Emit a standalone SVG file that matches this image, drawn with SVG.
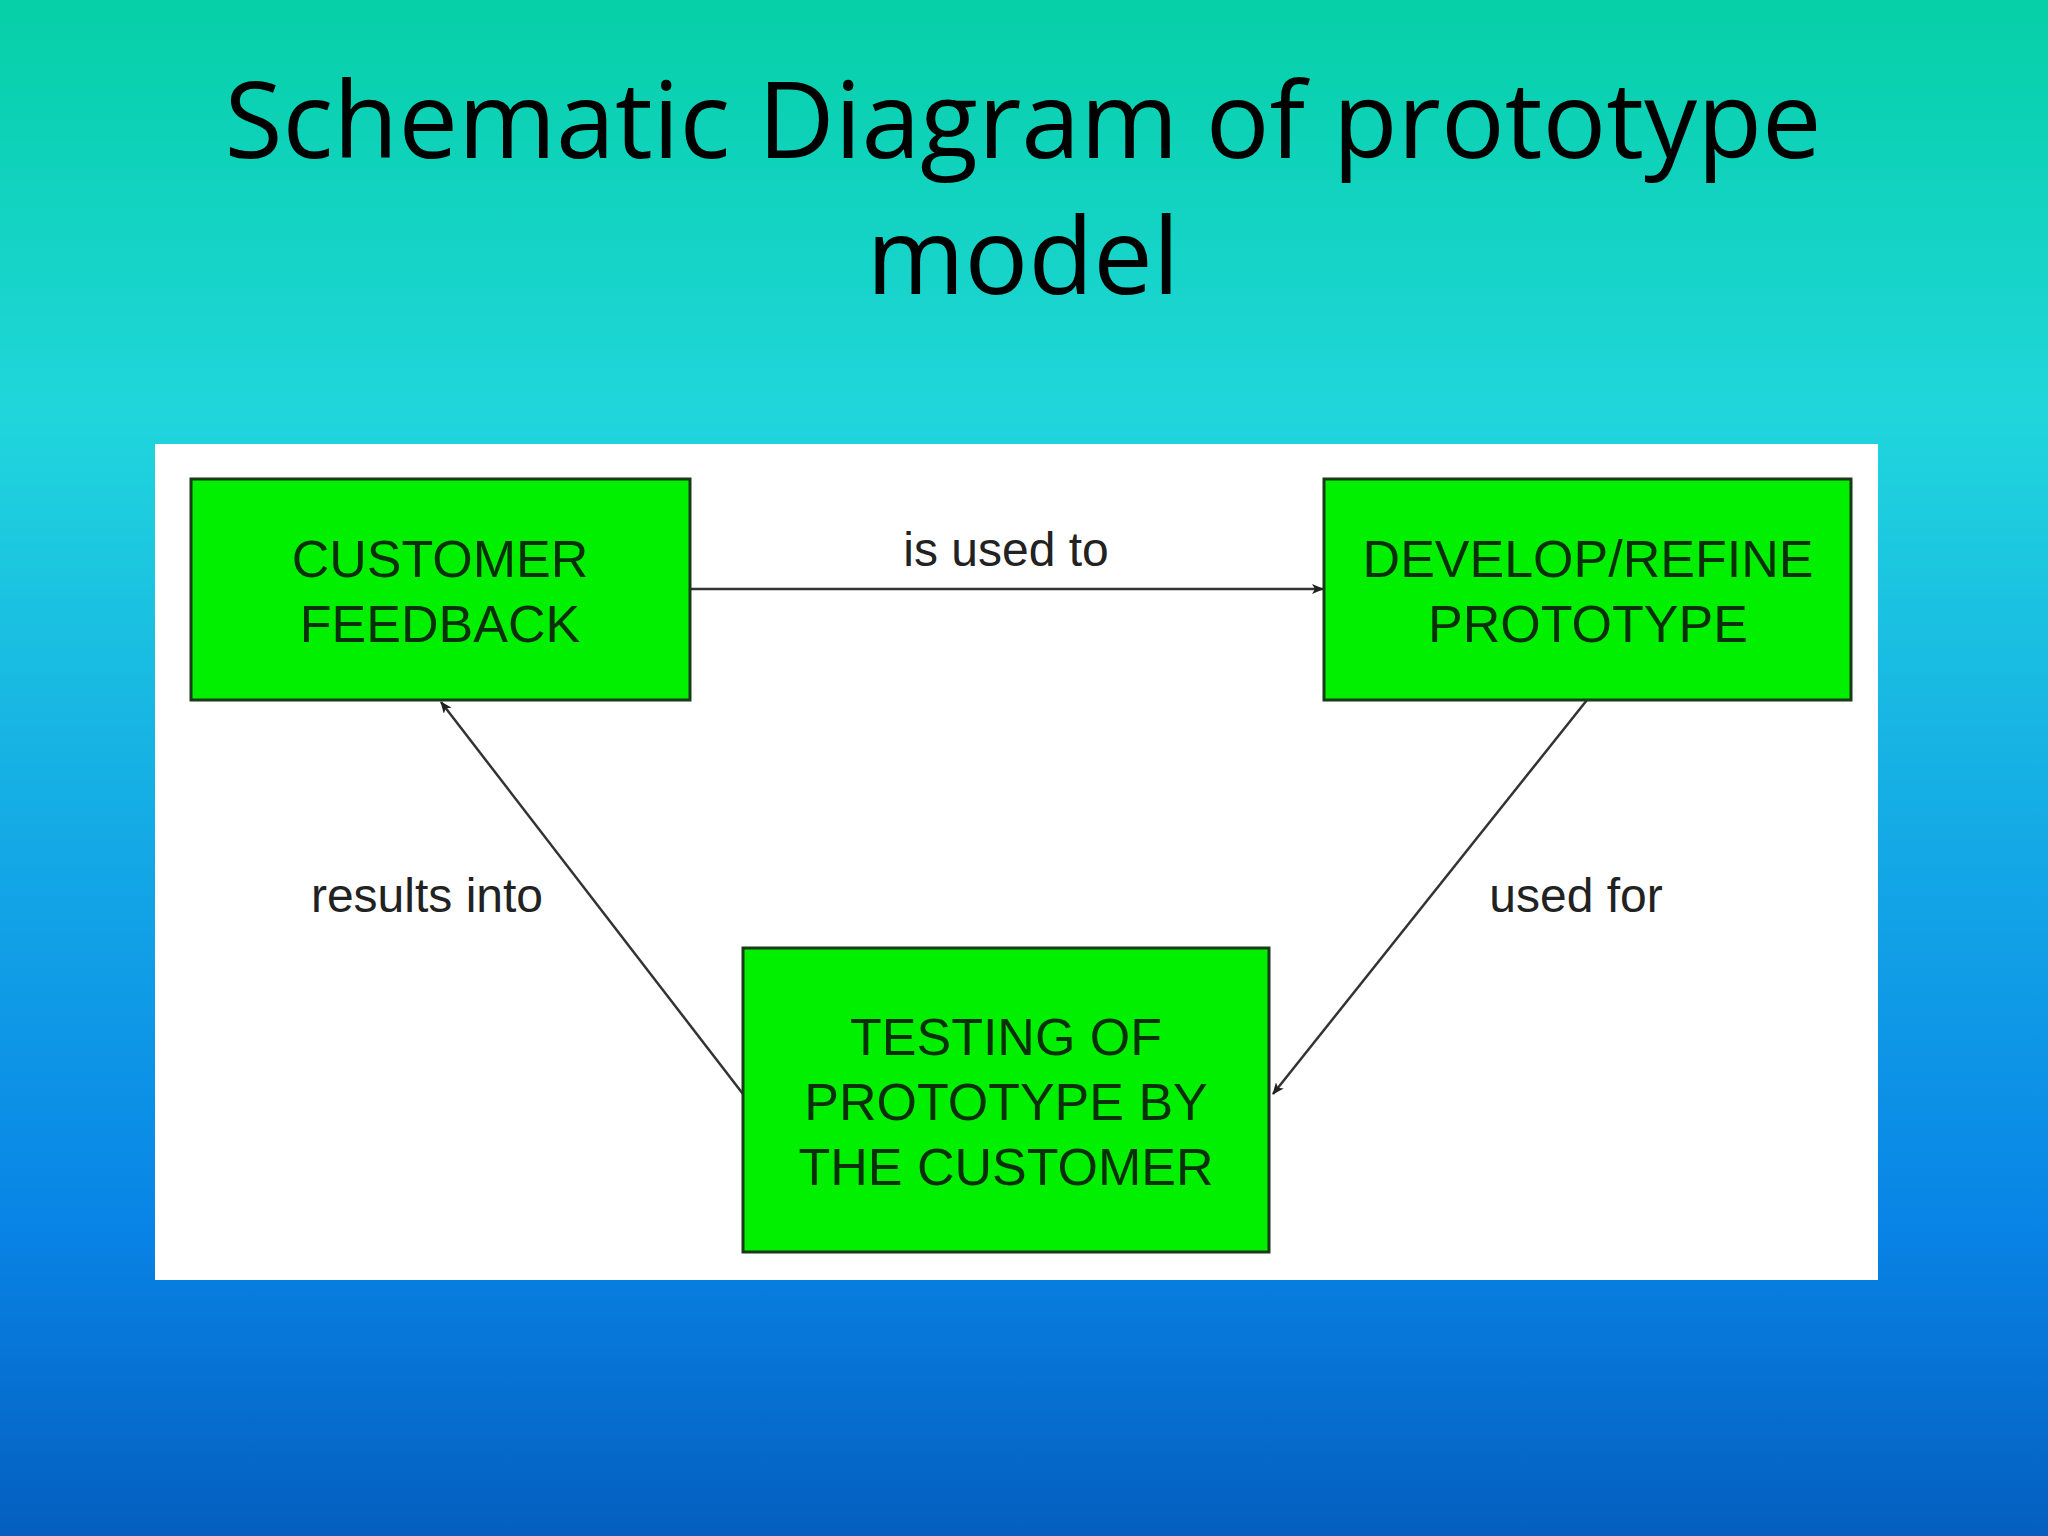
<svg xmlns="http://www.w3.org/2000/svg" width="2048" height="1536" viewBox="0 0 2048 1536">
<defs>
<linearGradient id="bg" x1="0" y1="0" x2="0" y2="1">
<stop offset="0" stop-color="#05d0a6"/>
<stop offset="0.27" stop-color="#20d6dc"/>
<stop offset="0.55" stop-color="#14a9e6"/>
<stop offset="0.8" stop-color="#0884e6"/>
<stop offset="1" stop-color="#045fbf"/>
</linearGradient>
<marker id="ah" markerWidth="12" markerHeight="10" refX="11" refY="5" orient="auto" markerUnits="userSpaceOnUse" viewBox="0 0 12 10">
<path d="M0,0 L12,5 L0,10 L3,5 Z" fill="#222"/>
</marker>
<style>
.box{fill:#00f000;stroke:#1a3a1a;stroke-width:3}
.bt{font-family:"Liberation Sans",Arial,sans-serif;font-size:52px;fill:#0a300a;text-anchor:middle}
.lb{font-family:"Liberation Sans",Arial,sans-serif;font-size:48px;fill:#222;text-anchor:middle}
.cn{stroke:#333;stroke-width:2.5;fill:none;marker-end:url(#ah)}
</style>
</defs>
<rect width="2048" height="1536" fill="url(#bg)"/>
<text x="1023" y="158" font-family="'Open Sans',sans-serif" font-size="106" text-anchor="middle" fill="#000">Schematic Diagram of prototype</text>
<text x="1023" y="294" font-family="'Open Sans',sans-serif" font-size="106" text-anchor="middle" fill="#000">model</text>
<rect x="155" y="444" width="1723" height="836" fill="#fff"/>
<g id="connectors">
<line class="cn" x1="690" y1="589" x2="1323" y2="589"/>
<line class="cn" x1="1587" y1="700" x2="1273" y2="1094"/>
<line class="cn" x1="743" y1="1094" x2="441" y2="702"/>
<text class="lb" x="1006" y="566">is used to</text>
<text class="lb" x="1576" y="912">used for</text>
<text class="lb" x="427" y="912">results into</text>
</g>
<g id="customer-feedback">
<rect class="box" x="191" y="479" width="499" height="221"/>
<text class="bt" x="440" y="577">CUSTOMER</text>
<text class="bt" x="440" y="642">FEEDBACK</text>
</g>
<g id="develop-refine">
<rect class="box" x="1324" y="479" width="527" height="221"/>
<text class="bt" x="1588" y="577">DEVELOP/REFINE</text>
<text class="bt" x="1588" y="642">PROTOTYPE</text>
</g>
<g id="testing">
<rect class="box" x="743" y="948" width="526" height="304"/>
<text class="bt" x="1006" y="1055">TESTING OF</text>
<text class="bt" x="1006" y="1120">PROTOTYPE BY</text>
<text class="bt" x="1006" y="1185">THE CUSTOMER</text>
</g>
</svg>
